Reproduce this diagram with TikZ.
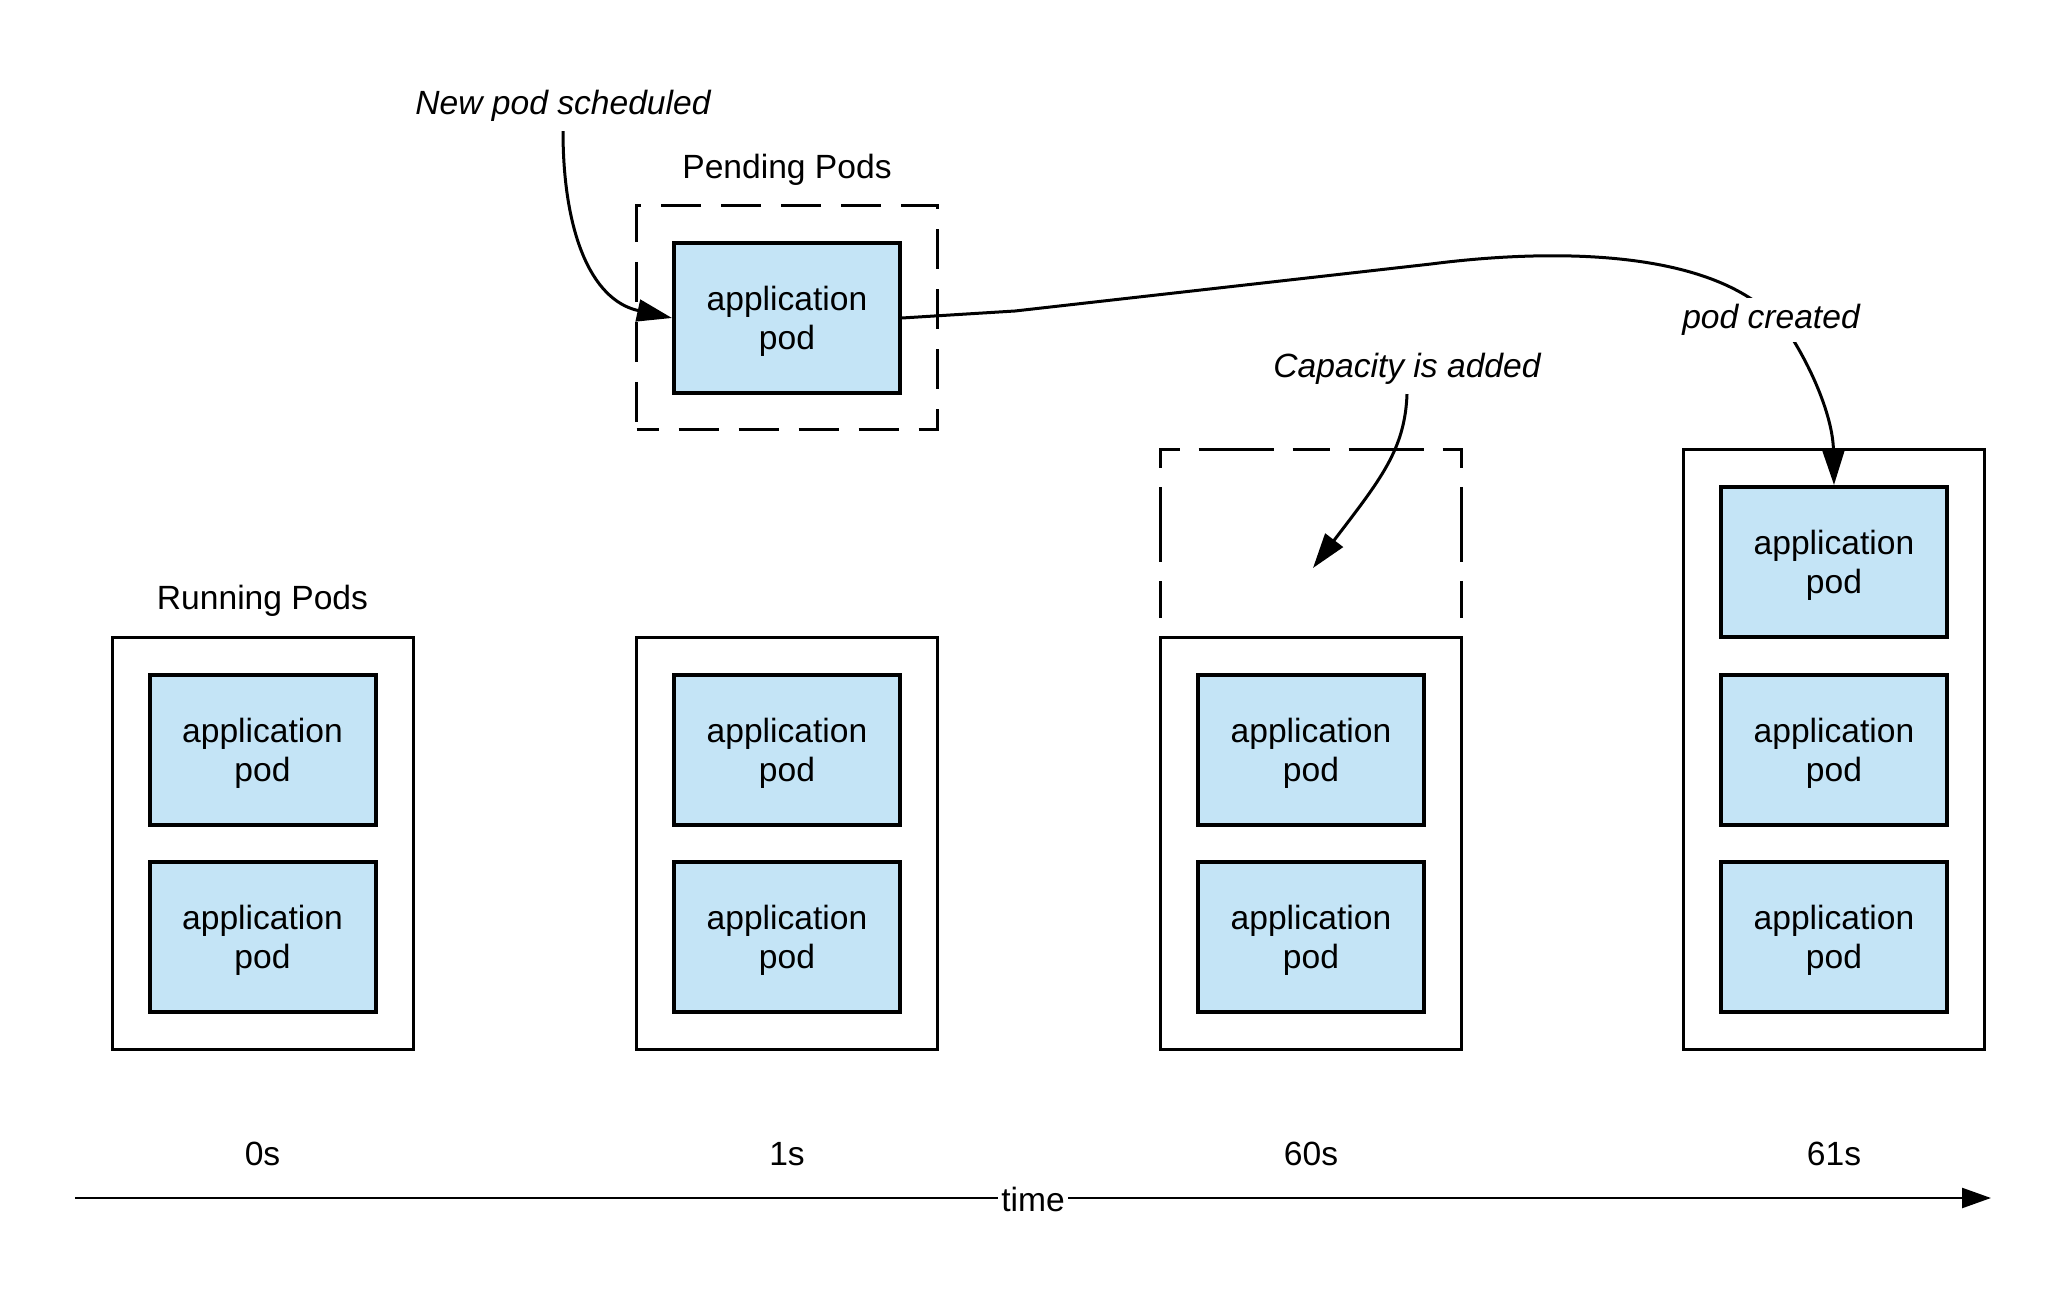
\documentclass[tikz,border=0pt]{standalone}
\usepackage{fontspec}
\setmainfont{Liberation Sans}
\usetikzlibrary{arrows.meta}
\definecolor{podblue}{RGB}{196,228,246}
\begin{document}
\begin{tikzpicture}[x=0.5pt,y=-0.5pt,
  txt/.style={font=\fontsize{16.8}{19.5}\selectfont, inner sep=3pt},
  note/.style={font=\fontsize{16.8}{19.5}\selectfont\itshape, inner sep=3pt},
  pod/.style={draw, line width=2pt, fill=podblue, minimum width=113pt, minimum height=75pt,
    inner sep=0pt, align=center, font=\fontsize{16.8}{19.5}\selectfont,
    text depth=0pt, execute at begin node={\rule{0pt}{13.5pt}}},
  host/.style={draw, line width=1.5pt, minimum width=150.5pt, inner sep=0pt, outer sep=0pt},
  dashA/.style={draw, line width=1.5pt, dash pattern=on 20pt off 10pt, dash phase=9pt,
    minimum width=150.5pt, minimum height=112pt, inner sep=0pt},
  dashB/.style={line width=1.5pt, dash pattern=on 18.5pt off 9.5pt on 37.5pt off 9.5pt, dash phase=65.5pt},
  conn/.style={line width=1.5pt, -{Triangle[length=17.5pt,width=11pt]}},
]
\fill[white] (0,0) rectangle (2068,1294);
\useasboundingbox (0,0) rectangle (2068,1294);

% hosts
\node[host, minimum height=206pt] (h1) at (262.5,843) {};
\node[host, minimum height=206pt] (h2) at (787,843) {};
\node[host, minimum height=206pt] (h3) at (1311,843) {};
\node[host, minimum height=299.5pt] (h4) at (1834,749.5) {};

% running pods
\node[pod] (p11) at (262.5,749.5) {application\\pod};
\node[pod] (p12) at (262.5,937) {application\\pod};
\node[pod] (p21) at (787,749.5) {application\\pod};
\node[pod] (p22) at (787,937) {application\\pod};
\node[pod] (p31) at (1311,749.5) {application\\pod};
\node[pod] (p32) at (1311,937) {application\\pod};
\node[pod] (p41) at (1834,562) {application\\pod};
\node[pod] (p42) at (1834,749.5) {application\\pod};
\node[pod] (p43) at (1834,937) {application\\pod};

% pending
\node[dashA] (pbox) at (787,318) {};
\node[pod] (pend) at (787,318) {application\\pod};

% capacity placeholder
\draw[dashB] (h3.north west) -- ++(0,-187) -| (h3.north east);

% labels
\node[txt] (lpend) at (787,170) {Pending Pods};
\node[txt] (lrun) at (262.5,601) {Running Pods};
\node[note] (lnew) at (563,106) {New pod scheduled};
\node[note] (lcap) at (1407,369) {Capacity is added};

\node[txt] (t0) at (262.5,1154) {0s};
\node[txt] (t1) at (787,1154) {1s};
\node[txt] (t2) at (1311,1154) {60s};
\node[txt] (t3) at (1834,1154) {61s};

% connectors
\coordinate (capend) at (1313,568);
\coordinate (w1) at (1015,311);
\coordinate (w2) at (1431,264);
\coordinate (w3) at (1745,295);
\coordinate (w4) at (1792,338);

\draw[conn] ([yshift=-1.5pt]lnew.south) .. controls (563,230) and (590,300) .. (pend.west);
\draw[conn] ([yshift=-1.5pt]lcap.south) .. controls (1405,450) and (1380,480) .. (capend);
\draw[conn] (pend.east) -- (w1) -- (w2) .. controls (1540,250) and (1670,250) .. (w3)
  .. controls (1765,307) and (1780,320) .. (w4) .. controls (1815,375) and (1833,420) .. (p41.north);
\node[note, fill=white] (lpc) at (1771,320) {pod created};

% time axis
\coordinate (ts) at (75,1198);
\coordinate (te) at (1991,1198);
\draw[line width=1.2pt, -{Triangle[length=14.5pt,width=10pt]}] (ts) -- (te);
\node[txt, fill=white, inner xsep=1.5pt, inner ysep=1pt] (time) at (1033,1199) {time};
\end{tikzpicture}
\end{document}
